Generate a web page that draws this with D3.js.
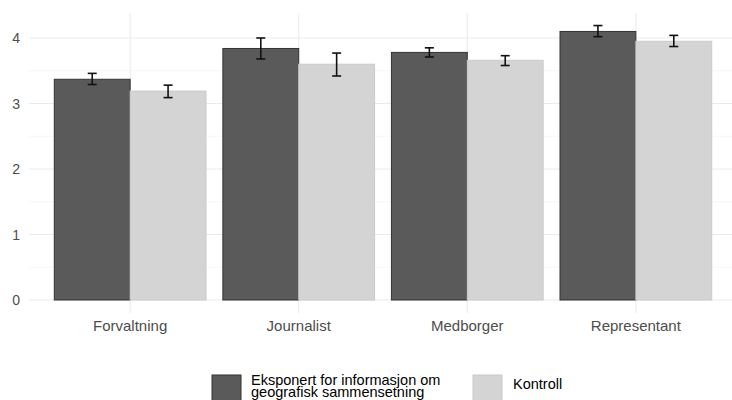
<!DOCTYPE html>
<html>
<head>
<meta charset="utf-8">
<script src="https://cdn.jsdelivr.net/npm/d3@7"></script>
<style>
  html, body { margin: 0; padding: 0; background: #fff; overflow: hidden; }
  svg { display: block; font-family: "Liberation Sans", Arial, sans-serif; }
</style>
</head>
<body>
<svg id="chart" width="732" height="400"></svg>
<script>
const categories = ["Forvaltning", "Journalist", "Medborger", "Representant"];
const groups = ["Eksponert for informasjon om\ngeografisk sammensetning", "Kontroll"];
const exposedMean = [3.37, 3.84, 3.78, 4.10];
const exposedLow  = [3.29, 3.68, 3.71, 4.02];
const exposedHigh = [3.46, 4.00, 3.85, 4.19];
const controlMean = [3.19, 3.60, 3.66, 3.95];
const controlLow  = [3.09, 3.42, 3.58, 3.87];
const controlHigh = [3.28, 3.77, 3.73, 4.04];
const yTicks = [0, 1, 2, 3, 4];
const yMinor = [0.5, 1.5, 2.5, 3.5];

const fills = ["#5a5a5a", "#d4d4d4"];
const strokes = ["#333333", "#cacaca"];

const data = [];
categories.forEach((c, i) => {
  data.push({cat: c, g: 0, v: exposedMean[i], lo: exposedLow[i], hi: exposedHigh[i]});
  data.push({cat: c, g: 1, v: controlMean[i], lo: controlLow[i], hi: controlHigh[i]});
});

const svg = d3.select("#chart");
const panelLeft = 29, panelRight = 737, panelTop = 13, panelBottom = 313;

const x = d3.scaleBand().domain(categories).range([panelLeft, panelRight])
  .paddingInner(0).paddingOuter(0.1);
const xg = d3.scaleBand().domain([0, 1])
  .range([x.bandwidth() * 0.05, x.bandwidth() * 0.95]).padding(0);
const y = d3.scaleLinear().domain([0, 4]).range([300, 38]);

const grid = svg.append("g");
grid.selectAll("line.minor").data(yMinor).enter().append("line")
  .attr("x1", panelLeft).attr("x2", panelRight)
  .attr("y1", d => y(d)).attr("y2", d => y(d))
  .attr("stroke", "#f4f4f4").attr("stroke-width", 0.7);
grid.selectAll("line.major").data(yTicks).enter().append("line")
  .attr("x1", panelLeft).attr("x2", panelRight)
  .attr("y1", d => y(d)).attr("y2", d => y(d))
  .attr("stroke", "#ebebeb").attr("stroke-width", 1.1);
grid.selectAll("line.vert").data(categories).enter().append("line")
  .attr("x1", d => x(d) + x.bandwidth() / 2).attr("x2", d => x(d) + x.bandwidth() / 2)
  .attr("y1", panelTop).attr("y2", panelBottom)
  .attr("stroke", "#ebebeb").attr("stroke-width", 1.1);

// bars
svg.append("g").selectAll("rect").data(data).enter().append("rect")
  .attr("x", d => x(d.cat) + xg(d.g))
  .attr("width", xg.bandwidth())
  .attr("y", d => y(d.v))
  .attr("height", d => y(0) - y(d.v))
  .attr("fill", d => fills[d.g])
  .attr("stroke", d => strokes[d.g])
  .attr("stroke-width", 1);

// error bars
const eb = svg.append("g").attr("stroke", "#111").attr("stroke-width", 1.6);
const capW = 9;
data.forEach(d => {
  const cx = x(d.cat) + xg(d.g) + xg.bandwidth() / 2;
  eb.append("line").attr("x1", cx).attr("x2", cx).attr("y1", y(d.lo)).attr("y2", y(d.hi));
  eb.append("line").attr("x1", cx - capW / 2).attr("x2", cx + capW / 2).attr("y1", y(d.lo)).attr("y2", y(d.lo));
  eb.append("line").attr("x1", cx - capW / 2).attr("x2", cx + capW / 2).attr("y1", y(d.hi)).attr("y2", y(d.hi));
});

// y axis labels
svg.append("g").selectAll("text").data(yTicks).enter().append("text")
  .attr("x", 20).attr("y", d => y(d)).attr("dy", "0.36em")
  .attr("text-anchor", "end").attr("font-size", 14).attr("fill", "#4d4d4d")
  .text(d => d);

// x axis labels
svg.append("g").selectAll("text").data(categories).enter().append("text")
  .attr("x", d => x(d) + x.bandwidth() / 2).attr("y", 331)
  .attr("text-anchor", "middle").attr("font-size", 15).attr("fill", "#4d4d4d")
  .text(d => d);

// legend
const legend = svg.append("g");
const legendX = [212, 473];
const textX = [251, 513];
groups.forEach((g, i) => {
  legend.append("rect")
    .attr("x", legendX[i]).attr("y", 375).attr("width", 29).attr("height", 29)
    .attr("fill", fills[i]).attr("stroke", strokes[i]).attr("stroke-width", 1);
  const lines = g.split("\n");
  const t = legend.append("text").attr("font-size", 14.5).attr("fill", "#000");
  const lh = 12.5;
  const startY = lines.length > 1 ? 384.5 : 389;
  lines.forEach((l, k) => {
    t.append("tspan").attr("x", textX[i]).attr("y", startY + k * lh).text(l);
  });
});
</script>
</body>
</html>
